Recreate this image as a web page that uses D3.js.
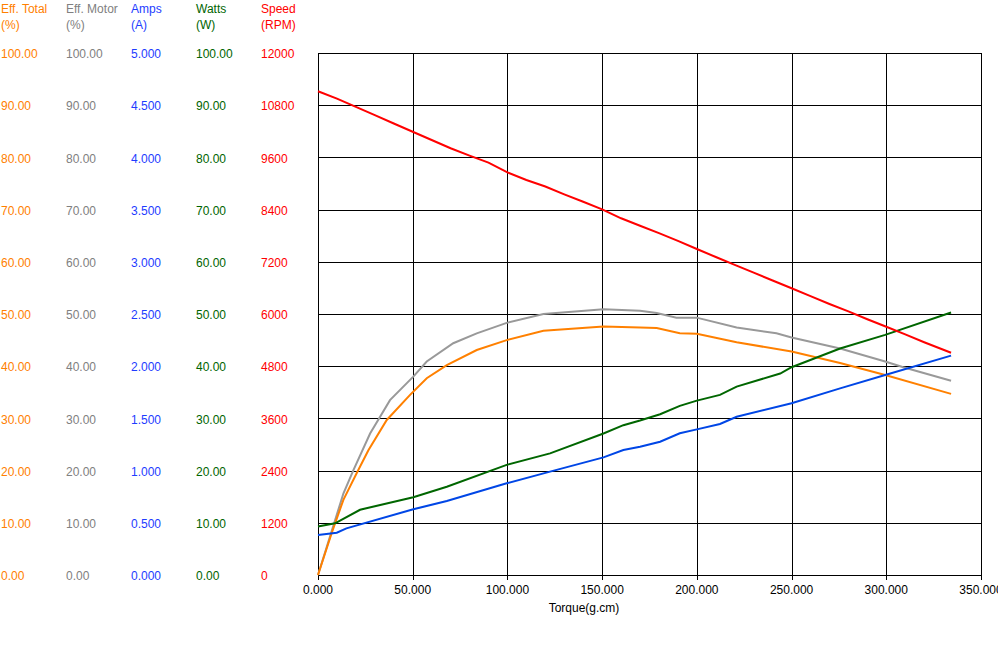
<!DOCTYPE html>
<html><head><meta charset="utf-8">
<script src="https://cdn.jsdelivr.net/npm/d3@7"></script>
<style>body{margin:0;background:#fff}svg text{font-family:"Liberation Sans",Arial,sans-serif;font-size:12px}</style>
</head><body><div id="c"></div>
<script>
const torqueTicks = [0,50,100,150,200,250,300,350];
const effTotal = [[0,0],[7.2,8],[13.4,14.4],[20.4,19.5],[26.6,23.9],[36.3,29.7],[48.6,34.5],[57.4,37.7],[68,40.2],[83.8,43.1],[99.6,45],[119,46.8],[150.7,47.6],[170,47.4],[178.8,47.3],[191,46.3],[200,46.2],[221,44.6],[250,42.8],[275.6,40.6],[299.4,38.3],[334.2,34.7]];
const effMotor = [[0,0],[13.4,15.6],[18.7,20.1],[27.5,27.1],[38,33.5],[50.3,38],[57.4,40.9],[71.4,44.4],[83.8,46.3],[99.6,48.3],[119,50],[150.7,50.9],[170,50.6],[178.8,50.2],[189.2,49.3],[199.9,49.3],[221,47.4],[242,46.3],[250,45.5],[275.6,43.4],[299.4,40.9],[309,39.8],[334.2,37.2]];
const amps = [[0,0.383],[9.9,0.405],[15,0.447],[50.3,0.629],[68,0.709],[99.6,0.878],[122.5,0.99],[150.7,1.127],[161.2,1.197],[170,1.229],[180.6,1.277],[191,1.357],[200,1.395],[212.2,1.446],[221,1.516],[250,1.645],[275.6,1.788],[299.4,1.916],[334.2,2.101]];
const watts = [[0,9.3],[9,9.9],[22.2,12.5],[50.3,14.9],[68,16.9],[99.6,21.1],[122.5,23.3],[150.7,27.1],[161.2,28.7],[170,29.6],[180.6,30.8],[191,32.4],[200,33.4],[212.2,34.5],[221,36.1],[244,38.6],[250,39.8],[275.6,43.4],[299.4,46],[334.2,50.3]];
const speed = [[0,11120],[10,10950],[20,10760],[30,10570],[40,10380],[50,10190],[60,10000],[70,9810],[80,9640],[90,9480],[100,9257],[110,9080],[120,8930],[130,8750],[140,8580],[150,8407],[160,8200],[170,8030],[180,7860],[190,7680],[200,7494],[210,7310],[220,7130],[230,6950],[240,6770],[250,6591],[260,6410],[270,6230],[280,6060],[290,5880],[300,5708],[310,5530],[320,5350],[334.2,5110]];
const pctTicks = [0,10,20,30,40,50,60,70,80,90,100];
const ampTicks = [0,0.5,1,1.5,2,2.5,3,3.5,4,4.5,5];
const speedTicks = [0,1200,2400,3600,4800,6000,7200,8400,9600,10800,12000];

const W=998,H=668, L=318, R=981, T=53, B=575;
const svg=d3.select("#c").append("svg").attr("width",W).attr("height",H);
const x=d3.scaleLinear().domain([0,350]).range([L,R]);
const yPct=d3.scaleLinear().domain([0,100]).range([B,T]);
const yAmp=d3.scaleLinear().domain([0,5]).range([B,T]);
const ySpd=d3.scaleLinear().domain([0,12000]).range([B,T]);

// grid
const g=svg.append("g").attr("shape-rendering","crispEdges");
g.selectAll(".hg").data(pctTicks).join("line").attr("x1",L).attr("x2",R)
 .attr("y1",d=>Math.round(yPct(d))+0.5).attr("y2",d=>Math.round(yPct(d))+0.5).attr("stroke","#000");
g.selectAll(".vg").data(torqueTicks).join("line").attr("y1",T).attr("y2",B+5)
 .attr("x1",d=>Math.round(x(d))+0.5).attr("x2",d=>Math.round(x(d))+0.5).attr("stroke","#000");
// x axis labels
svg.append("g").selectAll("text").data(torqueTicks).join("text")
 .attr("x",d=>x(d)).attr("y",594).attr("text-anchor","middle").attr("fill","#000")
 .text(d=>d3.format(".3f")(d));
svg.append("text").attr("x",584).attr("y",612).attr("text-anchor","middle").attr("fill","#000").text("Torque(g.cm)");

// left label columns
const cols=[
 {x:1,t1:"Eff. Total",t2:"(%)",c:"#FF8000",ticks:pctTicks,s:yPct,f:d3.format(".2f")},
 {x:66,t1:"Eff. Motor",t2:"(%)",c:"#808080",ticks:pctTicks,s:yPct,f:d3.format(".2f")},
 {x:131,t1:"Amps",t2:"(A)",c:"#1E3CFF",ticks:ampTicks,s:yAmp,f:d3.format(".3f")},
 {x:196,t1:"Watts",t2:"(W)",c:"#006400",ticks:pctTicks,s:yPct,f:d3.format(".2f")},
 {x:261,t1:"Speed",t2:"(RPM)",c:"#FF0000",ticks:speedTicks,s:ySpd,f:d3.format("d")}
];
cols.forEach(c=>{
 const cg=svg.append("g").attr("fill",c.c);
 cg.append("text").attr("x",c.x).attr("y",13).text(c.t1);
 cg.append("text").attr("x",c.x).attr("y",29).text(c.t2);
 cg.selectAll(".tk").data(c.ticks).join("text").attr("x",c.x).attr("y",d=>c.s(d)+2)
  .attr("dominant-baseline","middle").text(d=>c.f(d));
});

// lines
const series=[
 {d:effMotor,s:yPct,c:"#999999"},
 {d:effTotal,s:yPct,c:"#FF8000"},
 {d:watts,s:yPct,c:"#006600"},
 {d:amps,s:yAmp,c:"#0046E6"},
 {d:speed,s:ySpd,c:"#FF0000"}
];
series.forEach(se=>{
 svg.append("path").datum(se.d).attr("fill","none").attr("stroke",se.c).attr("stroke-width",2)
  .attr("d",d3.line().x(p=>x(p[0])).y(p=>se.s(p[1])));
});
</script></body></html>
